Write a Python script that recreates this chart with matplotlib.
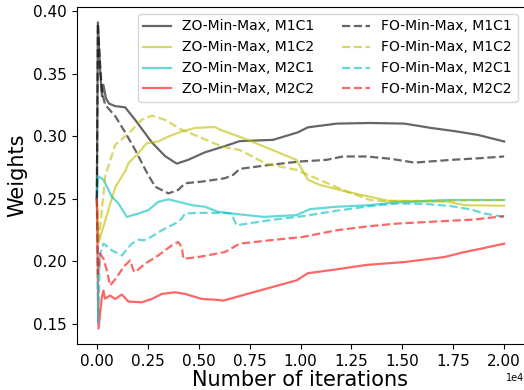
import matplotlib
matplotlib.use("Agg")
import matplotlib.pyplot as plt
from matplotlib.ticker import MultipleLocator

# ---- data (iterations, weights) ----
zo_m1c1_x = [0, 50, 150, 250, 320, 450, 600, 900, 1390, 1880, 2700, 3350, 3920, 4480, 5300, 6290, 7020, 8650, 9870, 10360, 11780, 13400, 15110, 16420, 17560, 18700, 20000]
zo_m1c1_y = [0.25, 0.391, 0.355, 0.332, 0.341, 0.330, 0.326, 0.324, 0.323, 0.313, 0.295, 0.284, 0.278, 0.281, 0.287, 0.292, 0.296, 0.297, 0.303, 0.307, 0.310, 0.3105, 0.310, 0.3065, 0.304, 0.301, 0.2957]

zo_m1c2_x = [0, 80, 160, 900, 1390, 1550, 2040, 2450, 3020, 3510, 4170, 4820, 5800, 6050, 7190, 8000, 9800, 10370, 10950, 12250, 13400, 14300, 17240, 18050, 20000]
zo_m1c2_y = [0.25, 0.215, 0.219, 0.259, 0.272, 0.2783, 0.2864, 0.2944, 0.2957, 0.2997, 0.3037, 0.3065, 0.3073, 0.3051, 0.2984, 0.293, 0.281, 0.265, 0.261, 0.2556, 0.2515, 0.2483, 0.2475, 0.2448, 0.2443]

zo_m2c1_x = [0, 60, 330, 735, 1060, 1470, 2040, 2530, 3020, 3510, 4000, 4660, 5310, 5960, 6700, 8170, 9800, 10460, 11760, 13400, 14460, 17240, 20000]
zo_m2c1_y = [0.25, 0.268, 0.265, 0.2515, 0.2462, 0.2354, 0.2381, 0.2408, 0.2475, 0.2494, 0.2475, 0.2448, 0.2435, 0.2394, 0.238, 0.2354, 0.2368, 0.2416, 0.2435, 0.2448, 0.2467, 0.2489, 0.2489]

zo_m2c2_x = [0, 80, 245, 325, 400, 650, 900, 1225, 1550, 2200, 2700, 3190, 3840, 4330, 5150, 5960, 6200, 7680, 9800, 10370, 11760, 13240, 15110, 17070, 18050, 18870, 20000]
zo_m2c2_y = [0.25, 0.146, 0.1711, 0.1765, 0.170, 0.1725, 0.1698, 0.1733, 0.1677, 0.1671, 0.1698, 0.1738, 0.1751, 0.1738, 0.1698, 0.169, 0.1684, 0.1751, 0.1846, 0.1904, 0.1934, 0.197, 0.1993, 0.2033, 0.2073, 0.21, 0.214]

fo_m1c1_x = [0, 50, 150, 250, 410, 900, 1390, 1880, 2450, 2860, 3510, 4000, 4330, 5150, 6290, 6690, 7020, 8500, 9970, 11270, 12080, 13240, 14460, 15600, 17400, 18870, 20000]
fo_m1c1_y = [0.25, 0.39, 0.36, 0.335, 0.325, 0.316, 0.303, 0.289, 0.271, 0.2596, 0.2542, 0.257, 0.2623, 0.2636, 0.2663, 0.269, 0.2738, 0.277, 0.2797, 0.281, 0.2837, 0.2837, 0.2818, 0.2788, 0.281, 0.2824, 0.2837]

fo_m1c2_x = [0, 80, 410, 900, 1550, 2200, 2700, 3350, 4170, 4980, 6130, 7020, 8330, 9800, 10950, 12090, 13400, 14130, 20000]
fo_m1c2_y = [0.25, 0.214, 0.268, 0.293, 0.302, 0.313, 0.3164, 0.313, 0.305, 0.2997, 0.2917, 0.2889, 0.2778, 0.273, 0.265, 0.2569, 0.2489, 0.248, 0.2489]

fo_m2c1_x = [0, 60, 150, 330, 735, 1225, 1715, 2040, 2290, 2530, 3190, 3840, 4170, 4330, 4980, 6290, 6600, 6860, 8500, 10130, 11760, 13400, 14780, 16260, 17400, 18380, 19030, 20000]
fo_m2c1_y = [0.25, 0.151, 0.205, 0.214, 0.2086, 0.2046, 0.214, 0.2172, 0.2167, 0.218, 0.2247, 0.2301, 0.2341, 0.2381, 0.2386, 0.2386, 0.238, 0.2287, 0.2328, 0.236, 0.2403, 0.244, 0.2462, 0.2456, 0.244, 0.2413, 0.2381, 0.2354]

fo_m2c2_x = [0, 60, 160, 330, 490, 650, 980, 1300, 1630, 1800, 1880, 2370, 3020, 3680, 4000, 4170, 4250, 4980, 6290, 7020, 8500, 10130, 11760, 13400, 14780, 17240, 18540, 20000]
fo_m2c2_y = [0.25, 0.19, 0.206, 0.2019, 0.1925, 0.1805, 0.1872, 0.1952, 0.2006, 0.1925, 0.1912, 0.198, 0.2046, 0.2127, 0.2153, 0.2113, 0.2019, 0.2033, 0.2073, 0.214, 0.2167, 0.2194, 0.2247, 0.228, 0.2301, 0.2322, 0.2333, 0.236]

labels = ["M1C1", "M1C2", "M2C1", "M2C2"]
colors = ["k", "y", "c", "r"]
zo_series = [(zo_m1c1_x, zo_m1c1_y), (zo_m1c2_x, zo_m1c2_y), (zo_m2c1_x, zo_m2c1_y), (zo_m2c2_x, zo_m2c2_y)]
fo_series = [(fo_m1c1_x, fo_m1c1_y), (fo_m1c2_x, fo_m1c2_y), (fo_m2c1_x, fo_m2c1_y), (fo_m2c2_x, fo_m2c2_y)]

fig = plt.figure(figsize=(5.24, 3.90), dpi=100)
ax = fig.add_axes([76.5 / 524, 1 - 344 / 390, (524.5 - 76.5) / 524, (344 - 7) / 390])

for (x, y), lab, c in zip(zo_series, labels, colors):
    ax.plot(x, y, color=c, alpha=0.6, lw=1.6, ls="-", label="ZO-Min-Max, " + lab)
for (x, y), lab, c in zip(fo_series, labels, colors):
    ax.plot(x, y, color=c, alpha=0.6, lw=1.6, ls="--", label="FO-Min-Max, " + lab)

ax.xaxis.set_major_locator(MultipleLocator(2500))
ax.yaxis.set_major_locator(MultipleLocator(0.05))
ax.ticklabel_format(axis="x", style="sci", scilimits=(0, 0))
ax.tick_params(labelsize=11)
ax.xaxis.get_offset_text().set_fontsize(7)
ax.set_xlabel("Number of iterations", fontsize=15, labelpad=1)
ax.set_ylabel("Weights", fontsize=15)
ax.legend(ncol=2, loc="upper right", fontsize=10)

fig.savefig("out.png", dpi=100)
